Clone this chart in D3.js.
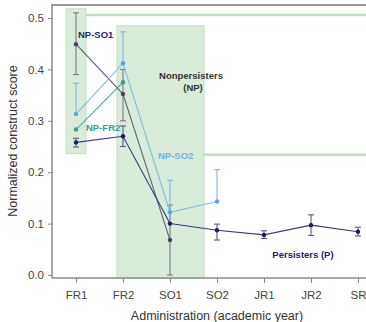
<!DOCTYPE html>
<html>
<head>
<meta charset="utf-8">
<script src="https://cdn.jsdelivr.net/npm/d3@7"></script>
<style>
  body { margin: 0; background: #fff; }
  text { font-family: "Liberation Sans", Arial, sans-serif; }
</style>
</head>
<body>
<div id="chart"></div>
<script>
const width = 366;
const height = 322;

const admins = ["FR1", "FR2", "SO1", "SO2", "JR1", "JR2", "SR"];
const yTicks = [0.0, 0.1, 0.2, 0.3, 0.4, 0.5];

// mean, lower, upper (null = no bar)
const persisters = [0.258, 0.270, 0.100, 0.087, 0.078, 0.097, 0.084];
const persistersLo = [0.249, 0.250, null, 0.068, 0.071, 0.077, 0.076];
const persistersHi = [0.266, 0.290, null, 0.099, 0.086, 0.117, 0.093];

const npSO1 = [0.449, 0.352, 0.068];
const npSO1Lo = [0.390, 0.300, 0.000];
const npSO1Hi = [0.510, 0.400, 0.136];

const npFR2 = [0.283, 0.375];

const npSO2 = [0.313, 0.412, 0.122, 0.143];
const npSO2Hi = [0.373, 0.473, 0.184, 0.205];

const svg = d3.select("#chart").append("svg")
    .attr("width", width)
    .attr("height", height);

const x = d3.scalePoint().domain(admins).range([76, 358]);
const y = d3.scaleLinear().domain([0, 0.5]).range([275, 18]);

const axisX0 = 52, axisY0 = 278, frameTop = 5;
const green = "#d9ecd9", greenEdge = "#c2dfc2";

// shaded groups
svg.append("rect")
    .attr("x", x("FR1") - 10).attr("y", y(0.518))
    .attr("width", 20).attr("height", y(0.236) - y(0.518))
    .attr("fill", green).attr("stroke", greenEdge);
svg.append("rect")
    .attr("x", x("FR2") - 6).attr("y", y(0.485))
    .attr("width", x("SO2") - 13 - (x("FR2") - 6)).attr("height", axisY0 - y(0.485))
    .attr("fill", green).attr("stroke", greenEdge);

svg.append("line")
    .attr("x1", x("FR1") + 10).attr("x2", width)
    .attr("y1", y(0.506)).attr("y2", y(0.506))
    .attr("stroke", "#bfe0bf").attr("stroke-width", 2.5);
svg.append("line")
    .attr("x1", x("SO2") - 13).attr("x2", width)
    .attr("y1", y(0.234)).attr("y2", y(0.234))
    .attr("stroke", "#bfe0bf").attr("stroke-width", 2.5);

// frame
svg.append("line").attr("x1", axisX0).attr("x2", width)
    .attr("y1", frameTop).attr("y2", frameTop)
    .attr("stroke", "#9a9a9a").attr("stroke-width", 2);
svg.append("line").attr("x1", axisX0).attr("x2", axisX0)
    .attr("y1", frameTop - 1).attr("y2", axisY0)
    .attr("stroke", "#8a8a8a").attr("stroke-width", 1.5);
svg.append("line").attr("x1", axisX0).attr("x2", width)
    .attr("y1", axisY0).attr("y2", axisY0)
    .attr("stroke", "#8a8a8a").attr("stroke-width", 1.5);

// y axis
const yAxis = svg.append("g")
    .attr("transform", `translate(${axisX0},0)`)
    .call(d3.axisLeft(y).tickValues(yTicks).tickFormat(d3.format(".1f")).tickSize(4).tickPadding(4));
yAxis.select(".domain").remove();
yAxis.selectAll("line").attr("stroke", "#888");
yAxis.selectAll("text").attr("font-size", 11.5).attr("fill", "#444")
    .style("font-family", "'Liberation Sans', Arial, sans-serif");

// x axis
const xAxis = svg.append("g")
    .attr("transform", `translate(0,${axisY0})`)
    .call(d3.axisBottom(x).tickSize(5).tickPadding(8));
xAxis.select(".domain").remove();
xAxis.selectAll("line").attr("stroke", "#888");
xAxis.selectAll("text").attr("font-size", 11.5).attr("fill", "#444")
    .style("font-family", "'Liberation Sans', Arial, sans-serif");

svg.append("text")
    .attr("x", 217).attr("y", 320)
    .attr("text-anchor", "middle")
    .attr("font-size", 12.5).attr("fill", "#333")
    .text("Administration (academic year)");
svg.append("text")
    .attr("transform", "translate(17,141) rotate(-90)")
    .attr("text-anchor", "middle")
    .attr("font-size", 12.5).attr("fill", "#333")
    .text("Normalized construct score");

const line = d3.line().x(d => x(d.k)).y(d => y(d.v));
const toPts = arr => arr.map((v, i) => ({ k: admins[i], v: v }));

function errBars (vals, lo, hi, color) {
    vals.forEach((v, i) => {
        const a = lo ? lo[i] : v;
        const b = hi ? hi[i] : v;
        if (a == null || b == null) return;
        const cx = x(admins[i]);
        const g = svg.append("g").attr("stroke", color).attr("stroke-width", 1.1);
        g.append("line").attr("x1", cx).attr("x2", cx).attr("y1", y(a)).attr("y2", y(b));
        if (lo) g.append("line").attr("x1", cx - 3).attr("x2", cx + 3).attr("y1", y(a)).attr("y2", y(a));
        g.append("line").attr("x1", cx - 3).attr("x2", cx + 3).attr("y1", y(b)).attr("y2", y(b));
    });
}

function series (vals, lineColor, ptColor, w) {
    svg.append("path")
        .attr("d", line(toPts(vals)))
        .attr("fill", "none")
        .attr("stroke", lineColor)
        .attr("stroke-width", w);
    svg.selectAll(null)
        .data(toPts(vals))
        .enter().append("circle")
        .attr("cx", d => x(d.k)).attr("cy", d => y(d.v))
        .attr("r", 2.2)
        .attr("fill", ptColor);
}

errBars(npSO1, npSO1Lo, npSO1Hi, "#7a7a86");
errBars(npSO2, null, npSO2Hi, "#7ab8e0");
errBars(persisters, persistersLo, persistersHi, "#5a5a80");

series(npSO1, "#5f5f78", "#45455f", 1.1);
series(npFR2, "#5aaca8", "#3e9a94", 1.1);
series(npSO2, "#7cbce4", "#4ea6e6", 1.1);
series(persisters, "#3a3a80", "#1c1c66", 1.1);

// annotations
const ann = [
    { t: "NP-SO1", x: 78, y: 38, c: "#2a2a6e", a: "start" },
    { t: "NP-FR2", x: 86, y: 131, c: "#3a9a9a", a: "start" },
    { t: "NP-SO2", x: 158, y: 159, c: "#6ab2f0", a: "start" },
    { t: "Nonpersisters", x: 191, y: 79, c: "#333", a: "middle" },
    { t: "(NP)", x: 193, y: 91, c: "#333", a: "middle" },
    { t: "Persisters (P)", x: 303, y: 258, c: "#22226e", a: "middle" }
];
svg.selectAll(null)
    .data(ann)
    .enter().append("text")
    .attr("x", d => d.x).attr("y", d => d.y)
    .attr("text-anchor", d => d.a)
    .attr("font-size", 9.5)
    .attr("font-weight", "bold")
    .attr("fill", d => d.c)
    .text(d => d.t);
</script>
</body>
</html>
